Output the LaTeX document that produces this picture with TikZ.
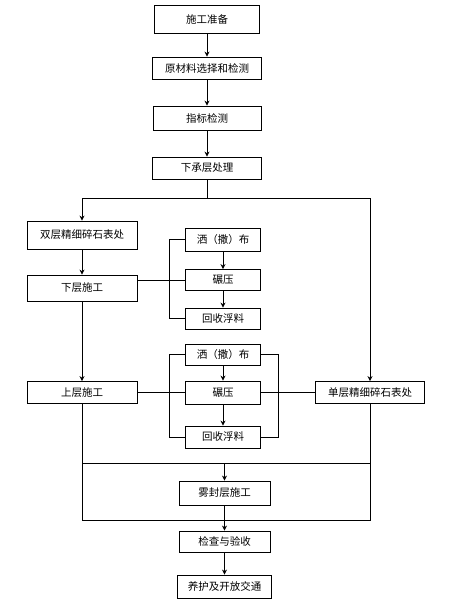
\documentclass[tikz,border=0pt]{standalone}
\usepackage{fontspec}
\newfontfamily\cjk{Noto Sans CJK SC}
\usetikzlibrary{arrows.meta}
\begin{document}
\begin{tikzpicture}[x=1pt,y=-1pt,line width=0.8pt,>={Stealth[length=5pt,width=5pt]},
	box/.style={draw,inner sep=0pt,font=\cjk\fontsize{10.5}{12}\selectfont}]
	\useasboundingbox (0,0) rectangle (464,615);
	\node[box,minimum width=105,minimum height=28] (sgzb) at (207,19) {施工准备};
	\node[box,minimum width=109,minimum height=22] (ycl) at (207,68) {原材料选择和检测};
	\node[box,minimum width=108,minimum height=24] (zbjc) at (207,118) {指标检测};
	\node[box,minimum width=109,minimum height=22] (xcc) at (207,168) {下承层处理};
	\node[box,minimum width=110,minimum height=28] (scb) at (82,235) {双层精细碎石表处};
	\node[box,minimum width=110,minimum height=26] (xcsg) at (82,288) {下层施工};
	\node[box,minimum width=110,minimum height=22] (scsg) at (82,392.5) {上层施工};
	\node[box,minimum width=75,minimum height=23] (sa1) at (223,239.5) {洒（撒）布};
	\node[box,minimum width=75,minimum height=21] (ny1) at (223,280) {碾压};
	\node[box,minimum width=75,minimum height=21] (hs1) at (223,318.5) {回收浮料};
	\node[box,minimum width=75,minimum height=21] (sa2) at (223,354.5) {洒（撒）布};
	\node[box,minimum width=75,minimum height=23] (ny2) at (223,392.5) {碾压};
	\node[box,minimum width=75,minimum height=22] (hs2) at (223,437) {回收浮料};
	\node[box,minimum width=109,minimum height=22] (dcb) at (370,392.5) {单层精细碎石表处};
	\node[box,minimum width=91,minimum height=24] (wfc) at (224.5,493) {雾封层施工};
	\node[box,minimum width=91,minimum height=21] (jcys) at (224.5,541.5) {检查与验收};
	\node[box,minimum width=94,minimum height=23] (yhjt) at (224.5,586.5) {养护及开放交通};
	\coordinate (fl) at (82,198);
	\coordinate (fr) at (370,198);
	\coordinate (hl) at (82,463);
	\coordinate (hr) at (370,463);
	\coordinate (bl) at (82,520);
	\coordinate (br) at (370,520);
	\draw[->] (sgzb)--(ycl);
	\draw[->] (ycl)--(zbjc);
	\draw[->] (zbjc)--(xcc);
	\draw (xcc)--(xcc|-fl);
	\draw (fl)--(fr);
	\draw[->] (fl)--(scb);
	\draw[->] (fr)--(dcb);
	\draw[->] (scb)--(xcsg);
	\draw[->] (xcsg)--(scsg);
	\draw[->] (sa1)--(ny1);
	\draw[->] (ny1)--(hs1);
	\draw (sa1.west)--++(-15.5,0)|-(hs1.west);
	\draw (xcsg.east|-ny1)--(ny1);
	\draw[->] (sa2)--(ny2);
	\draw[->] (ny2)--(hs2);
	\draw (sa2.west)--++(-15.5,0)|-(hs2.west);
	\draw (sa2.east)--++(17.5,0)|-(hs2.east);
	\draw (scsg)--(ny2);
	\draw (ny2)--(dcb);
	\draw (scsg)--(bl)--(br)--(dcb);
	\draw (hl)--(hr);
	\draw[->] (wfc|-hl)--(wfc);
	\draw[->] (wfc)--(jcys);
	\draw[->] (jcys)--(yhjt);
\end{tikzpicture}
\end{document}
